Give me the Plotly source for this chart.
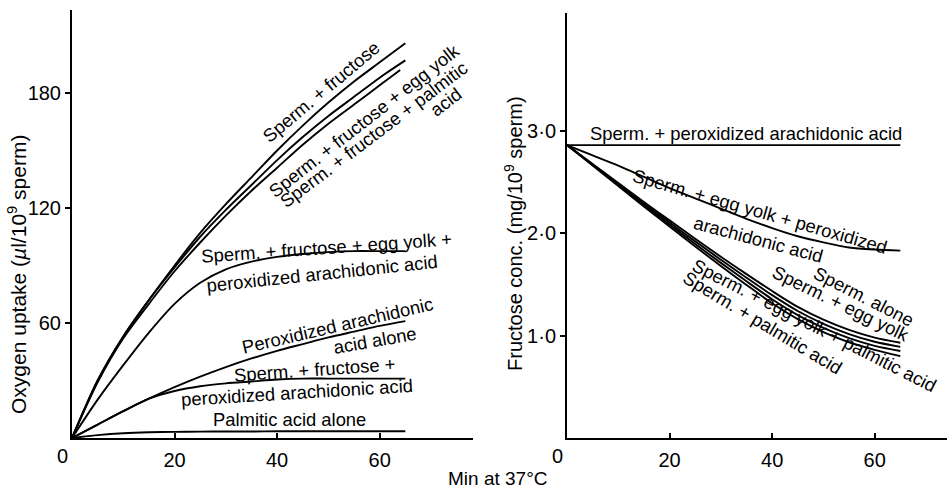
import plotly.graph_objects as go

# ---------------- data ----------------
time = [0, 5, 10, 15, 20, 25, 30, 35, 40, 45, 50, 55, 60, 65]
time_64 = [0, 5, 10, 15, 20, 25, 30, 35, 40, 45, 50, 55, 60, 64]

# Oxygen uptake (ul / 10^9 sperm)
o2_sperm_fructose = [0, 30, 53, 72, 90, 107, 122, 136, 150, 163, 175, 186, 196, 206]
o2_sperm_fructose_eggyolk = [0, 30, 53, 72, 89, 105, 119, 132, 145, 157, 168, 178, 188, 197]
o2_sperm_fructose_palmitic = [0, 29, 52, 70, 87, 102, 116, 129, 141, 153, 164, 174, 184, 192]
o2_sperm_fructose_eggyolk_paa = [0, 20, 38, 55, 70, 81, 88, 92, 94.5, 96, 97, 97.5, 97.5, 97.5]
o2_paa_alone = [0, 7, 14, 20.5, 26.5, 32, 37, 41.5, 45.5, 49, 52.5, 55.5, 58.5, 61]
o2_sperm_fructose_paa = [0, 7, 14, 20.5, 24.5, 27, 28.5, 29.5, 30.5, 31, 31, 31, 31, 31]
o2_palmitic_alone = [0, 1.5, 2.5, 3, 3.2, 3.3, 3.4, 3.4, 3.5, 3.5, 3.5, 3.5, 3.5, 3.5]

# Fructose conc. (mg / 10^9 sperm)
fr_sperm_paa = [2.86] * 14
fr_sperm_eggyolk_paa = [2.86, 2.76, 2.66, 2.55, 2.44, 2.34, 2.24, 2.14, 2.05, 1.97, 1.91, 1.86, 1.84, 1.83]
fr_sperm_alone = [2.86, 2.675, 2.49, 2.305, 2.125, 1.945, 1.77, 1.60, 1.435, 1.28, 1.155, 1.055, 0.98, 0.93]
fr_sperm_eggyolk = [2.86, 2.67, 2.48, 2.29, 2.105, 1.92, 1.74, 1.565, 1.395, 1.24, 1.115, 1.015, 0.94, 0.89]
fr_sperm_eggyolk_palmitic = [2.86, 2.665, 2.47, 2.275, 2.085, 1.895, 1.71, 1.53, 1.355, 1.20, 1.075, 0.975, 0.90, 0.85]
fr_sperm_palmitic = [2.86, 2.66, 2.46, 2.26, 2.065, 1.87, 1.68, 1.495, 1.315, 1.16, 1.035, 0.935, 0.86, 0.80]

x_tick_vals = [20, 40, 60]
o2_tick_vals = [60, 120, 180]
fr_tick_vals = [1, 2, 3]
fr_tick_text = ["1·0", "2·0", "3·0"]

left_title = "Oxygen uptake (<i>µ</i>l/10<sup>9</sup> sperm)"
right_title = "Fructose conc. (mg/10<sup>9</sup> sperm)"
x_title = "Min at 37°C"

left_labels = [
    "Sperm. + fructose",
    "Sperm. + fructose + egg yolk",
    "Sperm. + fructose + palmitic",
    "acid",
    "Sperm. + fructose + egg yolk +",
    "peroxidized arachidonic acid",
    "Peroxidized arachidonic",
    "acid alone",
    "Sperm. + fructose +",
    "peroxidized arachidonic acid",
    "Palmitic acid alone",
]
right_labels = [
    "Sperm. + peroxidized arachidonic acid",
    "Sperm. + egg yolk + peroxidized",
    "arachidonic acid",
    "Sperm. alone",
    "Sperm. + egg yolk",
    "Sperm. + egg yolk + palmitic acid",
    "Sperm. + palmitic acid",
]

# ---------------- layout: label positions (data coords) and angles ----------------
left_label_pos = [(48.6, 181, -40), (57.0, 165.8, -38), (58.8, 158.5, -37), (73, 175.4, -37),
                  (49.6, 99.5, -4), (48.7, 86, -6), (51.7, 58.5, -13), (59, 51, -10),
                  (47.4, 35.5, -4), (43.8, 23.8, -3.5), (42.5, 9.4, 0)]
right_label_pos = [(35, 2.97, 0), (37.7, 2.21, 16), (37.4, 1.94, 15), (57.9, 1.38, 27),
                   (53.4, 1.31, 26), (48.3, 1.10, 27), (38.1, 1.13, 31)]

FONT = "Liberation Sans, Arial, Helvetica, sans-serif"
W, H = 947, 491
LABEL_SIZE = 18.4

fig = go.Figure()

line = dict(color="black", width=1.9, shape="spline", smoothing=0.8)

left_series = [
    (time, o2_sperm_fructose),
    (time, o2_sperm_fructose_eggyolk),
    (time_64, o2_sperm_fructose_palmitic),
    (time, o2_sperm_fructose_eggyolk_paa),
    (time, o2_paa_alone),
    (time, o2_sperm_fructose_paa),
    (time, o2_palmitic_alone),
]
for xs, ys in left_series:
    fig.add_trace(go.Scatter(x=xs, y=ys, mode="lines", line=line, xaxis="x", yaxis="y",
                             showlegend=False, hoverinfo="skip"))

right_series = [
    (time, fr_sperm_paa),
    (time, fr_sperm_eggyolk_paa),
    (time, fr_sperm_alone),
    (time, fr_sperm_eggyolk),
    (time, fr_sperm_eggyolk_palmitic),
    (time, fr_sperm_palmitic),
]
for xs, ys in right_series:
    fig.add_trace(go.Scatter(x=xs, y=ys, mode="lines", line=line, xaxis="x2", yaxis="y2",
                             showlegend=False, hoverinfo="skip"))

annotations = []
for txt, (ax, ay, ang) in zip(left_labels, left_label_pos):
    annotations.append(dict(text=txt, x=ax, y=ay, xref="x", yref="y", showarrow=False,
                            textangle=ang, xanchor="center", yanchor="middle",
                            font=dict(size=LABEL_SIZE, color="black", family=FONT)))
for txt, (ax, ay, ang) in zip(right_labels, right_label_pos):
    annotations.append(dict(text=txt, x=ax, y=ay, xref="x2", yref="y2", showarrow=False,
                            textangle=ang, xanchor="center", yanchor="middle",
                            font=dict(size=LABEL_SIZE, color="black", family=FONT)))

# "0" labels at the origins (offset left as in the original)
for xr, yr in (("x", "y"), ("x2", "y2")):
    annotations.append(dict(text="0", x=0, y=0, xref=xr, yref=yr, showarrow=False,
                            xanchor="center", yanchor="top", xshift=-10, yshift=-5,
                            font=dict(size=20, color="black", family=FONT)))

annotations.append(dict(text=left_title, x=17 / W, y=1 - 275 / H, xref="paper", yref="paper",
                        showarrow=False, textangle=-90, xanchor="center", yanchor="middle",
                        font=dict(size=21, color="black", family=FONT)))
annotations.append(dict(text=right_title, x=513 / W, y=1 - 234 / H, xref="paper", yref="paper",
                        showarrow=False, textangle=-90, xanchor="center", yanchor="middle",
                        font=dict(size=20, color="black", family=FONT)))
annotations.append(dict(text=x_title, x=497 / W, y=1 - 478 / H, xref="paper", yref="paper",
                        showarrow=False, xanchor="center", yanchor="middle",
                        font=dict(size=19, color="black", family=FONT)))

axis_common = dict(showline=True, linecolor="black", linewidth=2, showgrid=False,
                   zeroline=False, ticklen=5, tickwidth=1.5, tickcolor="black",
                   automargin=False,
                   tickfont=dict(size=20, color="black", family=FONT), fixedrange=True)

fig.update_layout(
    template="none",
    width=W, height=H,
    margin=dict(l=0, r=0, t=0, b=0, pad=0),
    paper_bgcolor="white", plot_bgcolor="white",
    font=dict(family=FONT, color="black"),
    showlegend=False,
    xaxis=dict(domain=[72 / W, 473 / W], range=[0, 78.2], tickvals=x_tick_vals,
               ticks="inside", anchor="y", ticklabelstandoff=3, **axis_common),
    yaxis=dict(domain=[1 - 438 / H, 1 - 10 / H], range=[0, 223.3], tickvals=o2_tick_vals,
               ticks="outside", anchor="x", **axis_common),
    xaxis2=dict(domain=[567 / W, 1.0], range=[0, 74.1], tickvals=x_tick_vals,
                ticks="inside", anchor="y2", ticklabelstandoff=3, **axis_common),
    yaxis2=dict(domain=[1 - 438 / H, 1 - 13 / H], range=[0, 4.15], tickvals=fr_tick_vals,
                ticktext=fr_tick_text, ticks="outside", anchor="x2", **axis_common),
    annotations=annotations,
)

fig.write_html(
    "out.html",
    config={"displayModeBar": False},
    post_script="document.body.style.margin='0px';document.body.style.overflow='hidden';",
)
